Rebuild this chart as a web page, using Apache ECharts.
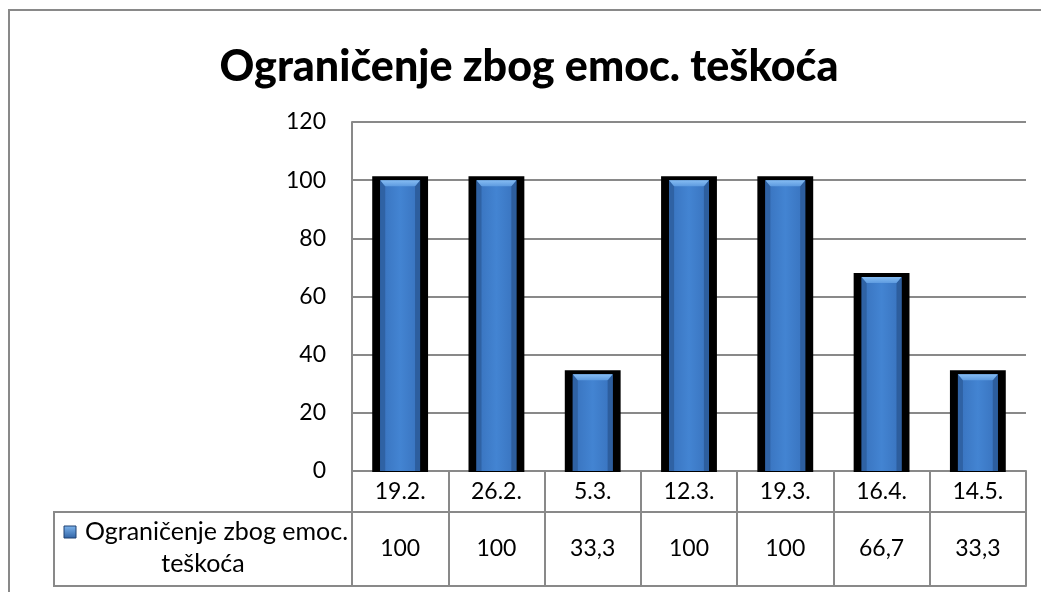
<!DOCTYPE html>
<html>
<head>
<meta charset="utf-8">
<script src="https://cdn.jsdelivr.net/npm/echarts@6/dist/echarts.min.js"></script>
<style>
html,body{margin:0;padding:0;background:#fff;}
#chart{width:1041px;height:592px;}
</style>
</head>
<body>
<div id="chart"></div>
<script>
const titleText = 'Ograničenje zbog emoc. teškoća';
const seriesName = 'Ograničenje zbog emoc. teškoća';
const categories = ['19.2.', '26.2.', '5.3.', '12.3.', '19.3.', '16.4.', '14.5.'];
const values = [100, 100, 33.3, 100, 100, 66.7, 33.3];
const yTicks = [0, 20, 40, 60, 80, 100, 120];

const FONT = 'Lato';
const GRAY = '#898989';
const FS = 23;

const chart = echarts.init(document.getElementById('chart'));
const fmt = v => String(v).replace('.', ',');

function renderBar(params, api) {
  const i = api.value(0);
  const v = api.value(1);
  const top = api.coord([i, v]);
  const base = api.coord([i, 0]);
  const bw = api.size([1, 0])[0];
  const cx = top[0];
  const outerW = bw * 0.58;
  const innerW = outerW - 16;
  const yT = top[1];
  const yB = base[1];
  const ox0 = cx - outerW / 2, ix0 = cx - innerW / 2, ix1 = cx + innerW / 2;
  const bev = 5;
  return {
    type: 'group',
    children: [
      {type: 'rect', shape: {x: ox0, y: yT - 4, width: outerW, height: yB - yT + 5}, style: {fill: '#000'}},
      {type: 'rect', shape: {x: ix0, y: yT, width: innerW, height: yB - yT},
        style: {fill: new echarts.graphic.LinearGradient(0, 0, 1, 0, [
          {offset: 0, color: '#3872bd'}, {offset: 0.5, color: '#4384d2'}, {offset: 1, color: '#3872bd'}])}},
      {type: 'polygon', shape: {points: [[ix0, yT], [ix0 + bev, yT + bev + 1], [ix0 + bev, yB], [ix0, yB]]},
        style: {fill: '#2f62a4'}},
      {type: 'polygon', shape: {points: [[ix1, yT], [ix1 - bev, yT + bev + 1], [ix1 - bev, yB], [ix1, yB]]},
        style: {fill: '#2d5e9e'}},
      {type: 'polygon', shape: {points: [[ix0, yT], [ix1, yT], [ix1 - bev, yT + bev + 1], [ix0 + bev, yT + bev + 1]]},
        style: {fill: new echarts.graphic.LinearGradient(0, 0, 0, 1, [
          {offset: 0, color: '#86bdf3'}, {offset: 1, color: '#5e9be0'}])}}
    ]
  };
}

const option = {
  animation: false,
  backgroundColor: '#fff',
  title: {
    text: titleText,
    left: 524,
    top: 41,
    textAlign: 'center',
    textStyle: {fontFamily: FONT, fontWeight: 900, fontSize: 43, lineHeight: 43, color: '#000'}
  },
  grid: {left: 352, right: 15, top: 122, bottom: 121, containLabel: false},
  xAxis: [
    {
      type: 'category', data: categories, position: 'bottom',
      axisLine: {show: true, lineStyle: {color: GRAY, width: 2}},
      axisTick: {show: true, length: 115, lineStyle: {color: GRAY, width: 2}},
      axisLabel: {margin: 21, verticalAlign: 'middle', fontFamily: FONT, fontSize: FS, color: '#000'},
      splitLine: {show: false}
    },
    {
      type: 'category', data: categories, position: 'bottom', offset: 41,
      axisLine: {show: true, lineStyle: {color: GRAY, width: 2}},
      axisTick: {show: false},
      axisLabel: {margin: 37, verticalAlign: 'middle', fontFamily: FONT, fontSize: FS, color: '#000',
        formatter: (v, i) => fmt(values[i])},
      splitLine: {show: false}
    },
    {
      type: 'category', data: categories, position: 'bottom', offset: 115,
      axisLine: {show: true, lineStyle: {color: GRAY, width: 2}},
      axisTick: {show: false},
      axisLabel: {show: false},
      splitLine: {show: false}
    }
  ],
  yAxis: {
    type: 'value', min: 0, max: 120, interval: 20,
    axisLine: {show: true, lineStyle: {color: GRAY, width: 2}},
    axisTick: {show: false},
    axisLabel: {margin: 26, fontFamily: FONT, fontSize: FS, color: '#000',
      formatter: v => yTicks.includes(v) ? String(v) : ''},
    splitLine: {show: true, lineStyle: {color: GRAY, width: 2}}
  },
  series: [
    {
      name: seriesName, type: 'custom', xAxisIndex: 0, silent: true, z: 3,
      renderItem: renderBar,
      encode: {x: 0, y: 1},
      data: values.map((v, i) => [i, v])
    }
  ],
  graphic: [
    {type: 'rect', z: -1, shape: {x: 9, y: 10, width: 1100, height: 700},
      style: {fill: 'none', stroke: GRAY, lineWidth: 2}},
    {type: 'rect', z: 10, shape: {x: 54, y: 512, width: 298, height: 74},
      style: {fill: 'none', stroke: GRAY, lineWidth: 2}},
    {type: 'rect', z: 10, shape: {x: 64, y: 526, width: 12, height: 12},
      style: {fill: new echarts.graphic.LinearGradient(0, 0, 0, 1, [
        {offset: 0, color: '#7fb6ee'}, {offset: 1, color: '#2f62a4'}]), stroke: '#1f4170', lineWidth: 1}},
    {type: 'text', z: 10, x: 85, y: 532,
      style: {text: 'Ograničenje zbog emoc.', font: '25px Lato', fill: '#000', textAlign: 'left', textVerticalAlign: 'middle'}},
    {type: 'text', z: 10, x: 203, y: 564,
      style: {text: 'teškoća', font: '25px Lato', fill: '#000', textAlign: 'center', textVerticalAlign: 'middle'}}
  ]
};
chart.setOption(option);
</script>
</body>
</html>
